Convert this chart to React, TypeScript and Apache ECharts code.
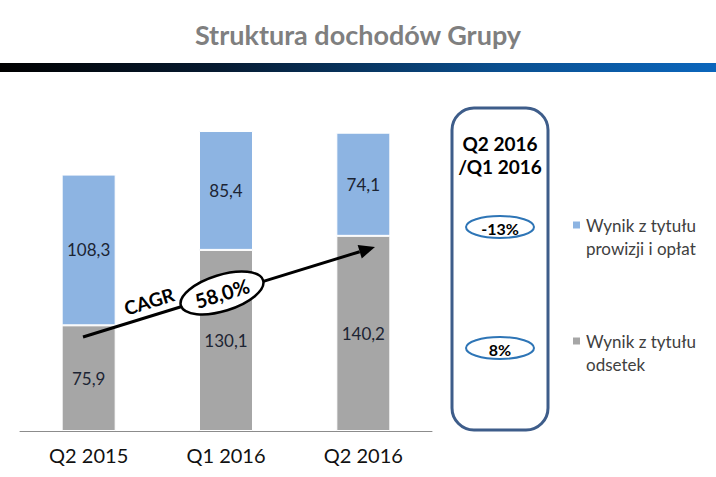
import React, { useEffect, useRef } from "react";
import * as echarts from "echarts";

const categories = ["Q2 2015", "Q1 2016", "Q2 2016"];
const interestIncome = [75.9, 130.1, 140.2];
const feeIncome = [108.3, 85.4, 74.1];
const seriesNames = ["Wynik z tytułu odsetek", "Wynik z tytułu prowizji i opłat"];
const changeLabels = ["-13%", "8%"];
const cagrLabel = "58,0%";
const panelTitle = ["Q2 2016", "/Q1 2016"];

const FONT = "Lato, 'Open Sans', sans-serif";

export default function App() {
  const ref = useRef<HTMLDivElement>(null);
  useEffect(() => {
    document.body.style.margin = "0";
    const chart = echarts.init(ref.current!, null, { renderer: "svg" });

    // arrow geometry (annotation)
    const sx = 83, sy = 337, tx = 375, ty = 247;
    const len = Math.hypot(tx - sx, ty - sy);
    const ux = (tx - sx) / len, uy = (ty - sy) / len;
    const nx = -uy, ny = ux;
    const bx = tx - 16 * ux, by = ty - 16 * uy;
    const ang = Math.atan2(-(ty - sy), tx - sx);

    const fmt = (p: any) => String(p.value).replace(".", ",");

    const legendText = (name: string) =>
      name === seriesNames[1]
        ? "{p| }\n{a|Wynik z tytułu}\n{a|prowizji i opłat}"
        : "{p| }\n{a|Wynik z tytułu}\n{a|odsetek}";

    const legendCommon = {
      orient: "vertical",
      left: 566,
      itemWidth: 9,
      itemHeight: 9,
      icon: "rect",
      formatter: legendText,
      textStyle: {
        fontFamily: FONT,
        fontSize: 17,
        color: "#404040",
        rich: {
          p: { fontFamily: FONT, fontSize: 17, lineHeight: 23 },
          a: { fontFamily: FONT, fontSize: 17, lineHeight: 23, color: "#404040" },
        },
      },
      selectedMode: false,
    };

    chart.setOption({
      animation: false,
      title: {
        text: "Struktura dochodów Grupy",
        left: "center",
        top: 21,
        padding: 0,
        textStyle: { fontFamily: FONT, fontSize: 27, fontWeight: "bold", color: "#7f7f7f" },
      },
      legend: [
        { ...legendCommon, top: 188.5, data: [seriesNames[1]] },
        { ...legendCommon, top: 304.5, data: [seriesNames[0]] },
      ],
      grid: { left: 20, right: 284, top: 83, bottom: 46 },
      xAxis: {
        type: "category",
        data: categories,
        axisLine: { lineStyle: { color: "#8c8c8c", width: 1 } },
        axisTick: { show: false },
        axisLabel: { fontFamily: FONT, fontSize: 20, color: "#111", margin: 14 },
      },
      yAxis: {
        type: "value",
        min: 0,
        max: 250,
        show: false,
        splitLine: { show: false },
      },
      series: [
        {
          name: seriesNames[0],
          type: "bar",
          stack: "total",
          data: interestIncome,
          barWidth: 54,
          itemStyle: { color: "#a6a6a6", borderColor: "#ffffff", borderWidth: 1 },
          label: {
            show: true,
            position: "inside",
            formatter: fmt,
            fontFamily: FONT,
            fontSize: 17,
            color: "#1c2433",
          },
        },
        {
          name: seriesNames[1],
          type: "bar",
          stack: "total",
          data: feeIncome,
          barWidth: 54,
          itemStyle: { color: "#8db4e2", borderColor: "#ffffff", borderWidth: 1 },
          label: {
            show: true,
            position: "inside",
            formatter: fmt,
            fontFamily: FONT,
            fontSize: 17,
            color: "#1c2433",
          },
        },
      ],
      graphic: [
        {
          type: "rect",
          shape: { x: 0, y: 63, width: 716, height: 9 },
          style: {
            fill: new echarts.graphic.LinearGradient(0, 0, 1, 0, [
              { offset: 0, color: "#000000" },
              { offset: 0.3, color: "#061a30" },
              { offset: 0.7, color: "#0a4f8f" },
              { offset: 1, color: "#0b66bc" },
            ]),
          },
          silent: true,
        },
        // CAGR arrow
        {
          type: "line",
          shape: { x1: sx, y1: sy, x2: bx, y2: by },
          style: { stroke: "#000", lineWidth: 3 },
          z: 10,
        },
        {
          type: "polygon",
          shape: {
            points: [
              [tx, ty],
              [bx + 7 * nx, by + 7 * ny],
              [bx - 7 * nx, by - 7 * ny],
            ],
          },
          style: { fill: "#000" },
          z: 10,
        },
        {
          type: "ellipse",
          x: 222,
          y: 293,
          rotation: ang,
          shape: { cx: 0, cy: 0, rx: 43, ry: 18 },
          style: { fill: "#fff", stroke: "#000", lineWidth: 2.5 },
          z: 11,
        },
        {
          type: "text",
          x: 222,
          y: 293,
          rotation: ang,
          style: {
            text: cagrLabel,
            fontFamily: FONT,
            fontSize: 20,
            fontWeight: "bold",
            fill: "#000",
            align: "center",
            verticalAlign: "middle",
          },
          z: 12,
        },
        {
          type: "text",
          x: 149,
          y: 301,
          rotation: ang,
          style: {
            text: "CAGR",
            fontFamily: FONT,
            fontSize: 19,
            fontWeight: "bold",
            fill: "#000",
            align: "center",
            verticalAlign: "middle",
          },
          z: 12,
        },
        // Right panel
        {
          type: "rect",
          shape: { x: 452, y: 108, width: 96, height: 322, r: 22 },
          style: { fill: "none", stroke: "#3e5d8a", lineWidth: 3 },
        },
        {
          type: "text",
          x: 500,
          y: 143,
          style: {
            text: panelTitle[0],
            fontFamily: FONT,
            fontSize: 19,
            fontWeight: "bold",
            fill: "#000",
            align: "center",
            verticalAlign: "middle",
          },
        },
        {
          type: "text",
          x: 500,
          y: 166,
          style: {
            text: panelTitle[1],
            fontFamily: FONT,
            fontSize: 19,
            fontWeight: "bold",
            fill: "#000",
            align: "center",
            verticalAlign: "middle",
          },
        },
        {
          type: "ellipse",
          shape: { cx: 500, cy: 227, rx: 34, ry: 11 },
          style: { fill: "#fff", stroke: "#2e75b6", lineWidth: 2 },
        },
        {
          type: "text",
          x: 500,
          y: 228,
          style: {
            text: changeLabels[0],
            fontFamily: FONT,
            fontSize: 16,
            fontWeight: "bold",
            fill: "#000",
            align: "center",
            verticalAlign: "middle",
          },
        },
        {
          type: "ellipse",
          shape: { cx: 500, cy: 348, rx: 34, ry: 11 },
          style: { fill: "#fff", stroke: "#2e75b6", lineWidth: 2 },
        },
        {
          type: "text",
          x: 500,
          y: 349,
          style: {
            text: changeLabels[1],
            fontFamily: FONT,
            fontSize: 16,
            fontWeight: "bold",
            fill: "#000",
            align: "center",
            verticalAlign: "middle",
          },
        },
      ],
    });
    return () => chart.dispose();
  }, []);
  return <div ref={ref} style={{ width: 716, height: 477 }} />;
}
